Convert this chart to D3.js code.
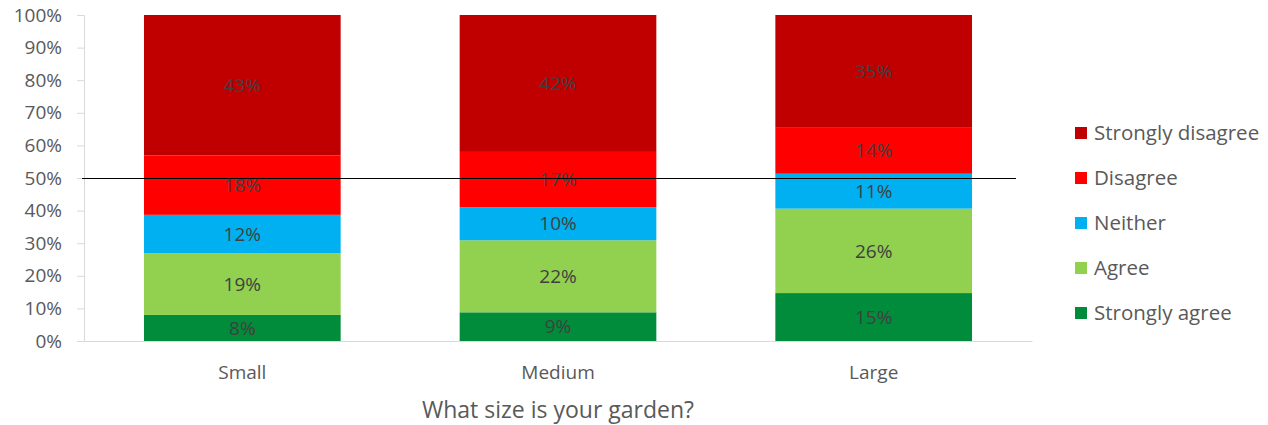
<!DOCTYPE html>
<html>
<head>
<meta charset="utf-8">
<script src="https://cdn.jsdelivr.net/npm/d3@7"></script>
<style>
  body { margin: 0; background: #fff; }
  svg { display: block; font-family: "Open Sans", Lato, sans-serif; }
</style>
</head>
<body>
<div id="chart"></div>
<script>
// garden size survey, shares per answer (fractions of 1)
const categories = ["Small", "Medium", "Large"]
const answers = ["Strongly agree", "Agree", "Neither", "Disagree", "Strongly disagree"]
const stronglyAgree = [0.080, 0.088, 0.147]
const agree = [0.189, 0.221, 0.259]
const neither = [0.118, 0.101, 0.107]
const disagree = [0.182, 0.170, 0.141]
const stronglyDisagree = [0.431, 0.420, 0.346]
const yTicks = [0, 0.1, 0.2, 0.3, 0.4, 0.5, 0.6, 0.7, 0.8, 0.9, 1]
const referenceLine = 0.5
const xTitle = "What size is your garden?"

const colors = ["#008C3A", "#92D050", "#00B0F0", "#FF0000", "#C00000"]

const width = 1268, height = 425
const margin = {top: 15, right: 236, bottom: 84, left: 84}

const rows = categories.map((c, i) => ({
  category: c,
  "Strongly agree": stronglyAgree[i],
  "Agree": agree[i],
  "Neither": neither[i],
  "Disagree": disagree[i],
  "Strongly disagree": stronglyDisagree[i]
}))

const series = d3.stack().keys(answers)(rows)

const svg = d3.select("#chart").append("svg")
  .attr("width", width)
  .attr("height", height)
  .attr("viewBox", [0, 0, width, height])

const x = d3.scaleBand()
  .domain(categories)
  .range([margin.left, width - margin.right])
  .paddingInner(0.377)
  .paddingOuter(0.19)

const y = d3.scaleLinear()
  .domain([0, 1])
  .range([height - margin.bottom, margin.top])

// bars
svg.append("g")
  .selectAll("g")
  .data(series)
  .join("g")
    .attr("fill", (d, i) => colors[i])
  .selectAll("rect")
  .data(d => d)
  .join("rect")
    .attr("x", d => x(d.data.category))
    .attr("y", d => y(d[1]))
    .attr("width", x.bandwidth())
    .attr("height", d => y(d[0]) - y(d[1]))

// y axis
svg.append("g")
  .attr("transform", `translate(${margin.left}, 0)`)
  .call(d3.axisLeft(y).tickValues(yTicks).tickFormat(d3.format(".0%")).tickSize(7).tickPadding(15))
  .attr("font-family", null)
  .call(g => g.select(".domain").attr("stroke", "#D9D9D9"))
  .call(g => g.selectAll(".tick line").attr("stroke", "#D9D9D9"))
  .call(g => g.selectAll(".tick text")
    .attr("fill", "#595959")
    .attr("font-size", 19))

// x axis
svg.append("g")
  .attr("transform", `translate(0, ${height - margin.bottom})`)
  .call(d3.axisBottom(x).tickSize(0).tickPadding(25))
  .attr("font-family", null)
  .call(g => g.select(".domain").attr("stroke", "#D9D9D9"))
  .call(g => g.selectAll(".tick text")
    .attr("fill", "#595959")
    .attr("font-size", 19))

// segment labels
svg.append("g")
  .selectAll("g")
  .data(series)
  .join("g")
  .selectAll("text")
  .data(d => d)
  .join("text")
    .attr("x", d => x(d.data.category) + x.bandwidth() / 2)
    .attr("y", d => (y(d[0]) + y(d[1])) / 2)
    .attr("dy", "0.35em")
    .attr("text-anchor", "middle")
    .attr("fill", "#404040")
    .attr("font-size", 19)
    .text(d => d3.format(".0%")(d[1] - d[0]))

// 50% line
svg.append("line")
  .attr("x1", margin.left - 2)
  .attr("x2", x(categories[2]) + x.bandwidth() + 44)
  .attr("y1", y(referenceLine) + 0.5)
  .attr("y2", y(referenceLine) + 0.5)
  .attr("stroke", "#000")
  .attr("stroke-width", 1)
  .attr("shape-rendering", "crispEdges")

// x title
svg.append("text")
  .attr("x", (margin.left + width - margin.right) / 2)
  .attr("y", 418)
  .attr("text-anchor", "middle")
  .attr("fill", "#595959")
  .attr("font-size", 23)
  .text(xTitle)

// legend, top entry is strongly disagree
const legend = svg.append("g")
  .attr("transform", "translate(1075, 133)")
  .selectAll("g")
  .data(answers.slice().reverse())
  .join("g")
    .attr("transform", (d, i) => `translate(0, ${i * 45})`)

legend.append("rect")
  .attr("x", 0)
  .attr("y", -6)
  .attr("width", 12)
  .attr("height", 12)
  .attr("fill", d => colors[answers.indexOf(d)])

legend.append("text")
  .attr("x", 19)
  .attr("dy", "0.35em")
  .attr("fill", "#595959")
  .attr("font-size", 20.5)
  .text(d => d)
</script>
</body>
</html>
